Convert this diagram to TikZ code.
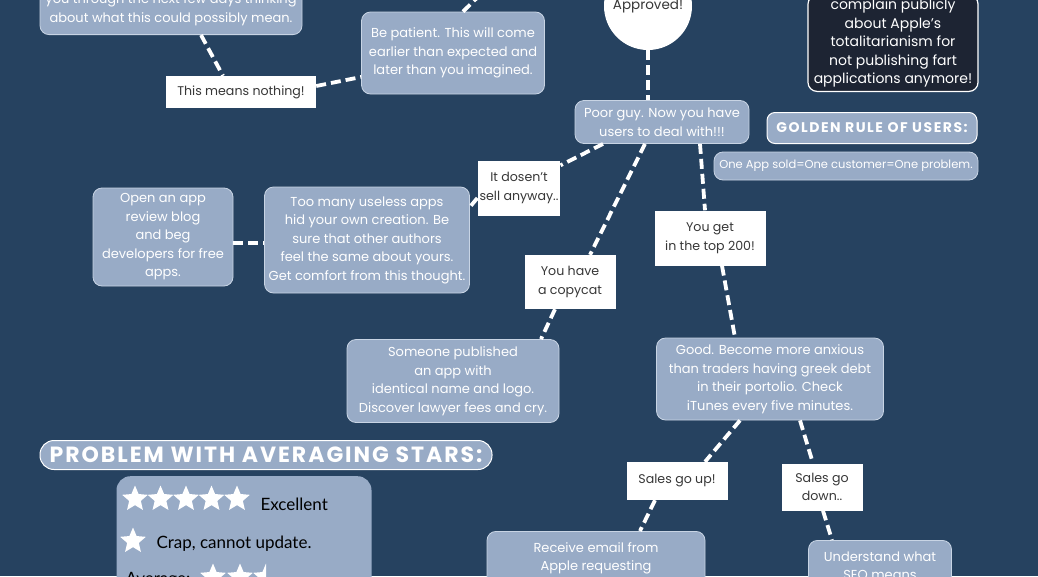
\documentclass[tikz,border=0pt]{standalone}
\usepackage{fontspec}
\setmainfont{Poppins}
\newfontfamily\starfont{Lato}
\usetikzlibrary{shapes.geometric}

\definecolor{night}{RGB}{38,66,96}
\definecolor{slate}{RGB}{152,171,198}
\definecolor{rim}{RGB}{200,212,228}
\definecolor{ink}{RGB}{55,55,55}
\definecolor{coal}{RGB}{29,36,51}

\begin{document}
\begin{tikzpicture}[x=1pt, y=-1pt, box/.style={draw=rim, line width=0.8pt, fill=slate, rounded corners=9pt, text=white, align=center, font=\fontsize{13}{18.5}\selectfont, inner sep=4pt}, tag/.style={fill=white, text=ink, align=center, font=\fontsize{12.6}{18.5}\selectfont, inner sep=2pt}, head/.style={draw=white, line width=1pt, fill=slate, rounded corners=8pt, text=white}, gem/.style={star, star points=5, star point ratio=2.2, fill=white, inner sep=0pt, minimum size=27pt}, d/.style={draw=white, line width=3.8pt, dash pattern=on 10pt off 5pt}]
                \clip (0,0) rectangle (1038,576);
                \fill[night] (0,0) rectangle (1038,576);
                % nodes
                \node[box, minimum width=262pt, inner ysep=9pt, anchor=south] (spend) at (171,35) {you through the next few days thinking\\about what this could possibly mean.};
                \node[tag, minimum width=150pt, minimum height=32pt] (nothing) at (241,92) {This means nothing!};
                \node[box, minimum width=183pt, minimum height=82pt] (patient) at (453,53) {Be patient. This will come\\earlier than expected and\\later than you imagined.};
                \node[circle, fill=white, text=ink, minimum size=88pt, font=\fontsize{13.5}{15}\selectfont] (approved) at (648,6) {Approved!};
                \node[box, minimum width=174pt, minimum height=43pt] (poorguy) at (662,122) {Poor guy. Now you have\\users to deal with!!!};
                \node[box, draw=white, line width=1.2pt, fill=coal, minimum width=170pt, inner ysep=4pt, anchor=south, font=\fontsize{14}{18.5}\selectfont] (complain) at (893,92) {complain publicly\\about Apple's\\totalitarianism for\\not publishing fart\\applications anymore!};
                \node[head, minimum width=210pt, minimum height=31pt, font=\bfseries\fontsize{14}{16}\selectfont\addfontfeature{LetterSpace=11}] (golden) at (872,128) {GOLDEN RULE OF USERS:};
                \node[box, minimum width=264pt, minimum height=28pt, font=\fontsize{11.5}{14}\selectfont] (onesold) at (846,166) {One App sold=One customer=One problem.};
                \node[tag, minimum width=76pt, minimum height=55pt] (dosent) at (519,188) {It dosen't\\sell anyway..};
                \node[box, minimum width=205pt, minimum height=106pt] (useless) at (367,240) {Too many useless apps\\hid your own creation. Be\\sure that other authors\\feel the same about yours.\\Get comfort from this thought.};
                \node[box, minimum width=140pt, minimum height=98pt] (blog) at (163,237) {Open an app\\review blog\\and beg\\developers for free\\apps.};
                \node[tag, minimum width=91pt, minimum height=54pt] (copycat) at (570,282) {You have\\a copycat};
                \node[box, minimum width=212pt, minimum height=83pt] (someone) at (453,381) {Someone published\\an app with\\identical name and logo.\\Discover lawyer fees and cry.};
                \node[tag, minimum width=111pt, minimum height=55pt] (top) at (710,238) {You get\\in the top 200!};
                \node[box, minimum width=227pt, minimum height=82pt] (good) at (770,379) {Good. Become more anxious\\than traders having greek debt\\in their portolio. Check\\iTunes every five minutes.};
                \node[tag, minimum width=101pt, minimum height=38pt] (salesup) at (677,481) {Sales go up!};
                \node[tag, minimum width=81pt, minimum height=47pt] (salesdown) at (822,487) {Sales go\\down..};
                \node[box, minimum width=218pt, inner ysep=11pt, text depth=40pt, anchor=north] (email) at (596,531) {Receive email from\\Apple requesting};
                \node[box, minimum width=143pt, inner ysep=11pt, text depth=40pt, anchor=north] (seo) at (880,540) {Understand what\\SEO means};
                \node[head, rounded corners=14pt, minimum width=452pt, minimum height=29pt, font=\bfseries\fontsize{22}{24}\selectfont\addfontfeature{LetterSpace=9}] (problem) at (266,455) {PROBLEM WITH AVERAGING STARS:};
                \node[fill=slate, rounded corners=14pt, minimum width=255pt, minimum height=140pt, anchor=north] (starbox) at (244,476) {};
                % stars
                \node[gem] (s1) at (135,499) {};
                \node[gem] (s2) at (160.5,499) {};
                \node[gem] (s3) at (186,499) {};
                \node[gem] (s4) at (211.5,499) {};
                \node[gem] (s5) at (237,499) {};
                \node[anchor=west, text=black, font=\starfont\fontsize{17}{20}\selectfont] (excellent) at (257,504) {Excellent};
                \node[gem] (one) at (133,541) {};
                \node[anchor=west, text=black, font=\starfont\fontsize{17}{20}\selectfont] (crap) at (153,544) {Crap, cannot update.};
                \node[anchor=west, text=black, font=\starfont\fontsize{17}{20}\selectfont] (average) at (122,580) {Average:};
                \node[gem] (a1) at (213,577) {};
                \node[gem] (a2) at (240,577) {};
                \begin{scope}
                    \clip (252,560) rectangle (266,600);
                    \node[gem] (a3) at (266,577) {};
                \end{scope}
                \coordinate (offpatient) at (487,-12);
                % edges
                \draw[d] ([xshift=30pt]spend.south) -- ([xshift=-18pt]nothing.north);
                \draw[d] ([yshift=6pt]nothing.east) -- ([yshift=-24pt]patient.west);
                \draw[d] ([xshift=10pt]patient.north) -- (offpatient);
                \draw[d] (approved.south) -- (approved.south |- poorguy.north);
                \draw[d] ([xshift=-59pt]poorguy.south) -- ([yshift=-5pt]dosent.north east);
                \draw[d] ([yshift=-10pt]dosent.west) -- ([yshift=33pt]useless.east);
                \draw[d] ([yshift=-6pt]blog.east) -- ([yshift=-6pt]blog.east -| useless.west);
                \draw[d] ([xshift=-17pt]poorguy.south) -- ([xshift=20pt]copycat.north);
                \draw[d] ([xshift=-15pt]copycat.south) -- ([xshift=88pt]someone.north);
                \draw[d] ([xshift=38pt]poorguy.south) -- ([xshift=-5pt]top.north);
                \draw[d] ([xshift=12pt]top.south) -- ([xshift=-35pt]good.north);
                \draw[d] ([xshift=-30pt]good.south) -- ([xshift=28pt]salesup.north);
                \draw[d] ([xshift=30pt]good.south) -- ([xshift=-9pt]salesdown.north);
                \draw[d] ([xshift=-22pt]salesup.south) -- ([xshift=44pt]email.north);
                \draw[d] ([xshift=1pt]salesdown.south) -- ([xshift=-48pt]seo.north);
            \end{tikzpicture}
\end{document}
